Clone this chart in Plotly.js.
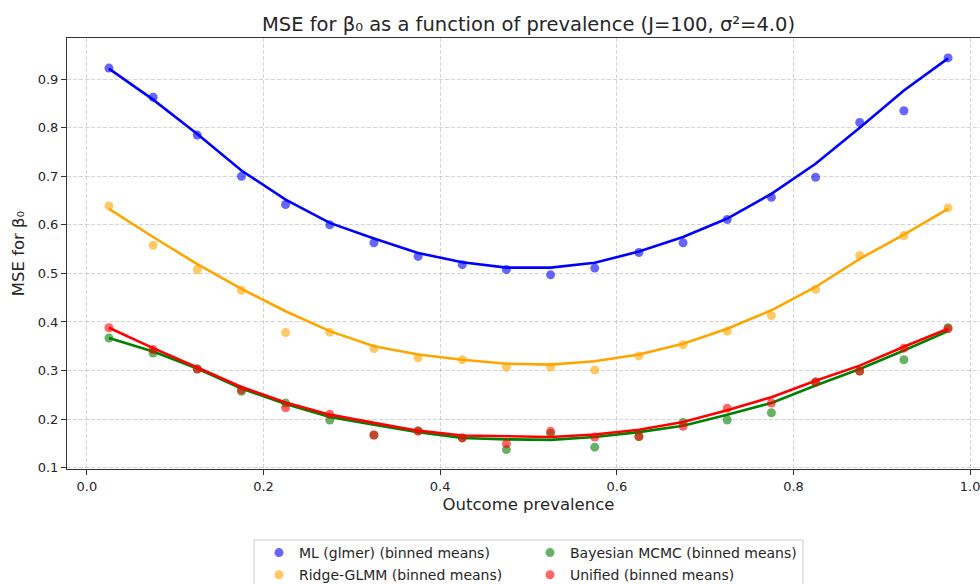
<!DOCTYPE html>
<html>
<head>
<meta charset="utf-8">
<script src="https://cdn.plot.ly/plotly-3.0.1.min.js"></script>
<style>
html, body { margin: 0; padding: 0; overflow: hidden; background: #fff; }
#chart { width: 1000px; height: 584px; }
</style>
</head>
<body>
<div id="chart"></div>
<script>
// Bin centres of outcome prevalence
const prevalence = [0.025, 0.075, 0.125, 0.175, 0.225, 0.275, 0.325, 0.375, 0.425, 0.475,
                    0.525, 0.575, 0.625, 0.675, 0.725, 0.775, 0.825, 0.875, 0.925, 0.975];

// Binned means
const mlMeans      = [0.923, 0.863, 0.785, 0.700, 0.642, 0.600, 0.563, 0.535, 0.518, 0.508,
                      0.497, 0.511, 0.543, 0.563, 0.611, 0.657, 0.698, 0.811, 0.835, 0.944];
const ridgeMeans   = [0.639, 0.558, 0.508, 0.465, 0.378, 0.379, 0.345, 0.326, 0.322, 0.307,
                      0.307, 0.301, 0.330, 0.353, 0.381, 0.413, 0.467, 0.537, 0.578, 0.635];
const bayesMeans   = [0.367, 0.336, 0.303, 0.257, 0.233, 0.198, 0.167, 0.176, 0.161, 0.137,
                      0.170, 0.142, 0.164, 0.193, 0.198, 0.213, 0.276, 0.299, 0.322, 0.388];
const unifiedMeans = [0.388, 0.343, 0.303, 0.260, 0.223, 0.210, 0.167, 0.175, 0.161, 0.149,
                      0.175, 0.163, 0.164, 0.185, 0.222, 0.233, 0.276, 0.299, 0.346, 0.386];

// Smoothed fit curves (read at the bin centres)
const mlFit      = [0.922, 0.858, 0.787, 0.712, 0.652, 0.604, 0.572, 0.542, 0.523, 0.512,
                    0.512, 0.522, 0.545, 0.575, 0.613, 0.664, 0.726, 0.800, 0.877, 0.943];
const ridgeFit   = [0.633, 0.575, 0.519, 0.468, 0.422, 0.381, 0.350, 0.333, 0.322, 0.314,
                    0.312, 0.319, 0.333, 0.355, 0.386, 0.424, 0.472, 0.530, 0.580, 0.633];
const bayesFit   = [0.367, 0.339, 0.304, 0.263, 0.231, 0.204, 0.188, 0.173, 0.161, 0.158,
                    0.157, 0.163, 0.173, 0.186, 0.209, 0.233, 0.269, 0.303, 0.341, 0.381];
const unifiedFit = [0.388, 0.346, 0.306, 0.266, 0.234, 0.209, 0.192, 0.176, 0.166, 0.164,
                    0.163, 0.168, 0.178, 0.194, 0.218, 0.245, 0.279, 0.310, 0.349, 0.386];

const seriesNames = ['ML (glmer) (binned means)', 'Ridge-GLMM (binned means)',
                     'Bayesian MCMC (binned means)', 'Unified (binned means)'];
const seriesColors = ['#0000ff', '#ffa500', '#008000', '#ff0000'];
const seriesMeans = [mlMeans, ridgeMeans, bayesMeans, unifiedMeans];
const seriesFits = [mlFit, ridgeFit, bayesFit, unifiedFit];
const seriesLegends = ['legend', 'legend', 'legend2', 'legend2'];

const FONT = 'DejaVu Sans, sans-serif';
const TXT = '#262626';
const traces = [];
for (let i = 0; i < seriesNames.length; i++) {
  traces.push({
    type: 'scatter', mode: 'markers', x: prevalence, y: seriesMeans[i],
    name: seriesNames[i], legend: seriesLegends[i], legendgroup: 'g' + i,
    marker: { color: seriesColors[i], size: 9, opacity: 0.6 },
    hoverinfo: 'x+y+name'
  });
  traces.push({
    type: 'scatter', mode: 'lines', x: prevalence, y: seriesFits[i],
    name: seriesNames[i].replace(' (binned means)', ''), showlegend: false,
    legend: seriesLegends[i], legendgroup: 'g' + i,
    line: { color: seriesColors[i], width: 2.6 }
  });
}

const plotL = 67, plotR = 10, plotT = 38, plotB = 115, W = 1000, H = 584;
const pw = W - plotL - plotR, ph = H - plotT - plotB;
const px = X => (X - plotL) / pw;
const py = Y => (H - plotB - Y) / ph;

const axisCommon = {
  showline: true, linecolor: '#333', linewidth: 1, mirror: true,
  ticks: 'outside', ticklen: 5, tickwidth: 1, tickcolor: '#333',
  showgrid: true, gridcolor: 'rgba(176,176,176,0.55)', gridwidth: 1, griddash: '4px,2px',
  zeroline: false,
  tickfont: { family: FONT, size: 13, color: TXT }
};

const legendCommon = {
  xanchor: 'left', yanchor: 'top',
  bgcolor: 'rgba(0,0,0,0)', borderwidth: 0,
  font: { family: FONT, size: 14, color: TXT }, tracegroupgap: 1
};

const layout = {
  width: W, height: H,
  margin: { l: plotL, r: plotR, t: plotT, b: plotB, autoexpand: false },
  paper_bgcolor: '#fff', plot_bgcolor: '#fff',
  font: { family: FONT, color: TXT },
  title: {
    text: 'MSE for β₀ as a function of prevalence (J=100, σ²=4.0)',
    font: { family: FONT, size: 19.5, color: TXT },
    xref: 'paper', x: 0.5, xanchor: 'center',
    yref: 'container', y: 1 - 24 / H, yanchor: 'middle'
  },
  xaxis: Object.assign({}, axisCommon, {
    range: [-0.0225, 1.0225],
    tickvals: [0, 0.2, 0.4, 0.6, 0.8, 1.0],
    ticktext: ['0.0', '0.2', '0.4', '0.6', '0.8', '1.0'],
    automargin: true,
    title: { text: 'Outcome prevalence', standoff: 5, font: { family: FONT, size: 16.5, color: TXT } }
  }),
  yaxis: Object.assign({}, axisCommon, {
    range: [0.097, 0.985],
    tickvals: [0.1, 0.2, 0.3, 0.4, 0.5, 0.6, 0.7, 0.8, 0.9],
    ticktext: ['0.1', '0.2', '0.3', '0.4', '0.5', '0.6', '0.7', '0.8', '0.9'],
    title: { text: 'MSE for β₀', font: { family: FONT, size: 16.5, color: TXT } }
  }),
  legend: Object.assign({}, legendCommon, { x: px(259), y: py(537) }),
  legend2: Object.assign({}, legendCommon, { x: px(530), y: py(537) }),
  shapes: [{
    type: 'rect', xref: 'paper', yref: 'paper',
    x0: px(254), x1: px(803), y0: py(540), y1: py(600),
    line: { color: '#cccccc', width: 1 }, fillcolor: 'rgba(255,255,255,0.8)', layer: 'below'
  }],
  showlegend: true
};

Plotly.newPlot('chart', traces, layout, { displayModeBar: false, responsive: false });
</script>
</body>
</html>
